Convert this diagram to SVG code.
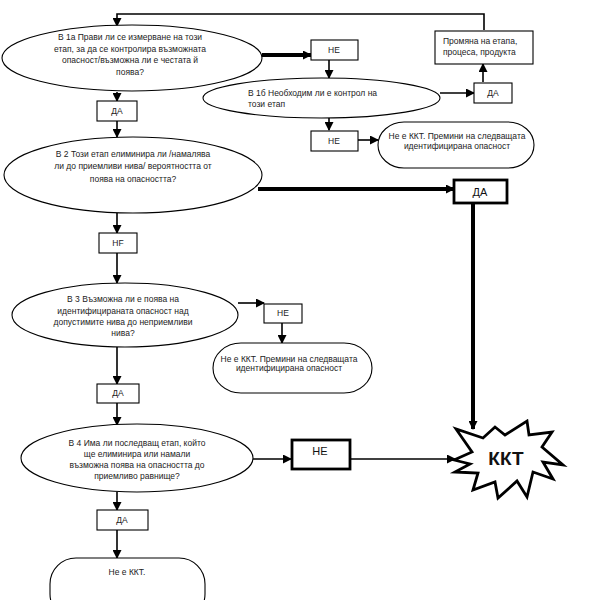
<svg xmlns="http://www.w3.org/2000/svg" width="599" height="600" viewBox="0 0 599 600">
<style>
.sh{fill:#fff;stroke:#000;stroke-width:1.1}
.thk{fill:#fff;stroke:#000;stroke-width:2.8}
.t{font-family:"Liberation Sans",Arial,sans-serif;font-size:8.5px;fill:#222;text-anchor:middle}
.tb{font-family:"Liberation Sans",Arial,sans-serif;font-size:11px;fill:#111;text-anchor:middle}
.tk{font-family:"Liberation Sans",Arial,sans-serif;font-size:19px;font-weight:bold;fill:#111;text-anchor:middle}
.c{fill:none;stroke:#000;stroke-width:1.6;marker-end:url(#ah)}
.ct{fill:none;stroke:#000;stroke-width:4;marker-end:url(#ah)}
.cn{fill:none;stroke:#000;stroke-width:1.3}
</style>
<defs>
<marker id="ah" markerUnits="userSpaceOnUse" markerWidth="9" markerHeight="9" refX="8" refY="4.5" orient="auto">
<path d="M0,0 L9,4.5 L0,9 z" fill="#000"/>
</marker>
</defs>
<rect width="599" height="600" fill="#fff"/>
<g id="connectors">
<path class="c" d="M484,30 V14 H117 V26"/>
<path class="ct" d="M262,55 H311"/>
<path class="c" d="M329,60 V78"/>
<path class="c" d="M440,93 H474"/>
<path class="c" d="M483,82 V64"/>
<path class="c" d="M329,118 V130"/>
<path class="c" d="M358,140 H378"/>
<path class="c" d="M117,92 V101"/>
<path class="c" d="M117,120 V137"/>
<path class="ct" d="M258,189 H454"/>
<path class="ct" d="M473,203 V429"/>
<path class="c" d="M117,213 V233"/>
<path class="c" d="M117,253 V283"/>
<path class="c" d="M238,303 H264"/>
<path class="c" d="M282,323 V343"/>
<path class="c" d="M117,347 V384"/>
<path class="c" d="M117,403 V425"/>
<path class="c" d="M253,459 H291"/>
<path class="c" d="M350,459 H455"/>
<path class="c" d="M117,492 V510"/>
<path class="c" d="M117,530 V558"/>
</g>
<g id="q1a">
<ellipse class="sh" cx="132" cy="58" rx="130" ry="33"/>
<text class="t" x="130" y="40">В 1а Прави ли се  измерване на този</text>
<text class="t" x="130" y="52">етап, за да се контролира възможната</text>
<text class="t" x="130" y="63">опасност/възможна ли е честата й</text>
<text class="t" x="130" y="75">поява?</text>
</g>
<g id="ne1">
<rect class="sh" x="311" y="40" width="47" height="20"/>
<text class="t" x="334" y="53">НЕ</text>
</g>
<g id="q1b">
<ellipse class="sh" cx="321.5" cy="98" rx="118.5" ry="20"/>
<text class="t" x="248" y="96" style="text-anchor:start">В 1б Необходим ли е контрол на</text>
<text class="t" x="248" y="107" style="text-anchor:start">този етап</text>
</g>
<g id="da1b">
<rect class="sh" x="474" y="83" width="38" height="20"/>
<text class="t" x="493" y="96">ДА</text>
</g>
<g id="change">
<rect class="sh" x="435" y="31" width="98" height="33"/>
<text class="t" x="443" y="44" style="text-anchor:start">Промяна на етапа,</text>
<text class="t" x="443" y="55" style="text-anchor:start">процеса, продукта</text>
</g>
<g id="ne1b">
<rect class="sh" x="311" y="131" width="47" height="20"/>
<text class="t" x="334" y="144">НЕ</text>
</g>
<g id="notccp1">
<rect class="sh" x="378" y="122" width="156" height="46" rx="26" ry="23"/>
<text class="t" x="457" y="139">Не е ККТ. Премини на следващата</text>
<text class="t" x="457" y="149">идентифицирана опасност</text>
</g>
<g id="da1">
<rect class="sh" x="97" y="101" width="40" height="20"/>
<text class="t" x="117" y="114">ДА</text>
</g>
<g id="q2">
<ellipse class="sh" cx="133" cy="175" rx="129" ry="38"/>
<text class="t" x="133" y="157">В 2 Този  етап елиминира  ли /намалява</text>
<text class="t" x="133" y="169">ли до приемливи нива/ вероятността от</text>
<text class="t" x="133" y="182">поява  на опасността?</text>
</g>
<g id="da2">
<rect class="thk" x="454" y="180" width="53" height="23"/>
<text class="tb" x="480" y="195.5">ДА</text>
</g>
<g id="hf">
<rect class="sh" x="99" y="233" width="38" height="20"/>
<text class="t" x="118" y="246">HF</text>
</g>
<g id="q3">
<ellipse class="sh" cx="125" cy="315" rx="113" ry="32"/>
<text class="t" x="123" y="302">В 3 Възможна ли е поява на</text>
<text class="t" x="123" y="314">идентифицираната опасност над</text>
<text class="t" x="123" y="325">допустимите нива до неприемливи</text>
<text class="t" x="123" y="336">нива?</text>
</g>
<g id="ne3">
<rect class="sh" x="264" y="304" width="38" height="19"/>
<text class="t" x="283" y="316">НЕ</text>
</g>
<g id="notccp3">
<rect class="sh" x="213" y="343" width="159" height="50" rx="28" ry="25"/>
<text class="t" x="289" y="362">Не е ККТ. Премини на следващата</text>
<text class="t" x="289" y="371">идентифицирана опасност</text>
</g>
<g id="da3">
<rect class="sh" x="97" y="384" width="42" height="19"/>
<text class="t" x="118" y="396">ДА</text>
</g>
<g id="q4">
<ellipse class="sh" cx="137" cy="458" rx="116" ry="34"/>
<text class="t" x="137" y="446">В 4  Има ли последващ етап, който</text>
<text class="t" x="137" y="457">ще елиминира  или намали</text>
<text class="t" x="137" y="468">възможна поява на опасността до</text>
<text class="t" x="137" y="479">приемливо равнище?</text>
</g>
<g id="ne4">
<rect class="thk" x="292" y="440" width="58" height="29"/>
<text class="tb" x="320" y="455">НЕ</text>
</g>
<g id="ccp">
<polygon fill="#fff" stroke="#000" stroke-width="2.8" stroke-linejoin="miter" points="454,460 472,452 456,429 483,438 495,427 505,435 527,421 529,435 552,432 542,447 563,465 543,462 553,479 533,472 527,497 517,481 498,498 495,482 473,490 478,473 455,472 470,464"/>
<text class="tk" x="506" y="465">ККТ</text>
</g>
<g id="da4">
<rect class="sh" x="97" y="510" width="51" height="20"/>
<text class="t" x="122" y="523">ДА</text>
</g>
<g id="notccp4">
<rect class="sh" x="50" y="558" width="155" height="62" rx="26" ry="26"/>
<text class="t" x="127" y="575">Не е ККТ.</text>
</g>
</svg>
